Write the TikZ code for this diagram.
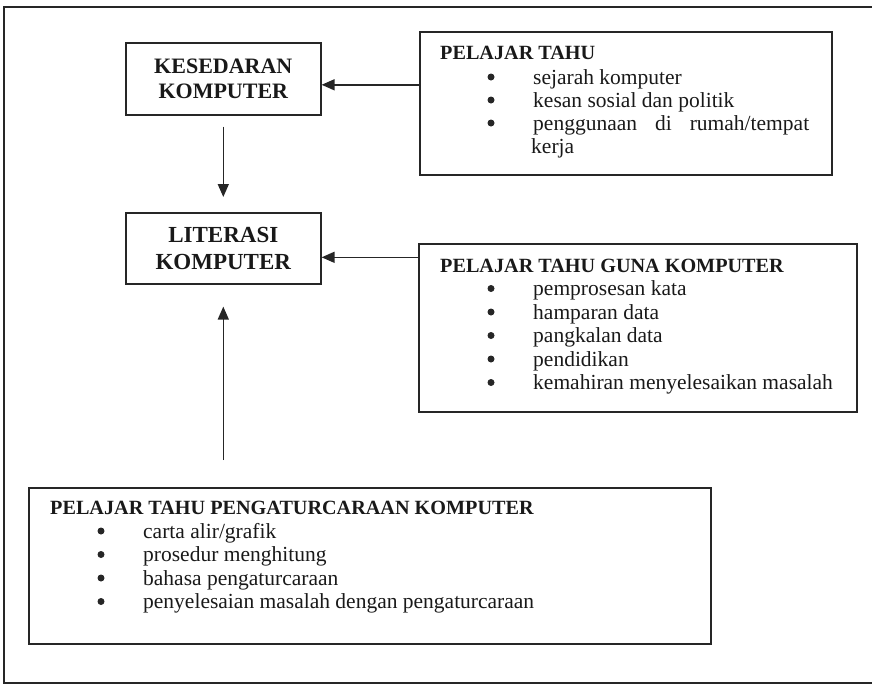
\documentclass[tikz,border=0pt]{standalone}
\usepackage{fontspec}
\setmainfont{Liberation Serif}
\usetikzlibrary{arrows.meta}
\begin{document}
\begin{tikzpicture}[x=1pt, y=-1pt, draw=black!85, text=black!90,
	box/.style={draw, line width=1.6pt, rectangle, anchor=north west, inner sep=0pt},
	big/.style={font=\fontsize{22}{25}\selectfont\bfseries, align=center},
	hd/.style={anchor=base west, inner sep=0pt, font=\fontsize{20.2}{24}\selectfont\bfseries},
	item/.style={anchor=base west, inner sep=0pt, font=\fontsize{21.5}{24}\selectfont},
	dot/.style={circle, fill=black!85, inner sep=0pt, minimum size=7pt},
	arr/.style={-{Triangle[length=13pt, width=11pt]}, line width=1.5pt}]
	\useasboundingbox (0,0) rectangle (872,686);
	\draw[line width=2pt] (872,7) -- (4,7) -- (4,683) -- (872,683);

	% left column
	\node[box, big, minimum width=195pt, minimum height=72pt] (kes) at (125,42) {KESEDARAN\\KOMPUTER};
	\node[box, big, font=\fontsize{23}{27}\selectfont\bfseries, minimum width=195pt, minimum height=71pt] (lit) at (125,212) {LITERASI\\KOMPUTER};

	% right and bottom boxes
	\node[box, minimum width=412pt, minimum height=143pt] (tahu) at (419,31) {};
	\node[box, minimum width=438pt, minimum height=168pt] (guna) at (418,243) {};
	\node[box, minimum width=682pt, minimum height=156pt] (prog) at (28,487) {};

	\node[hd] (tahuhd) at (440,59) {PELAJAR TAHU};
	\node[dot] (tahudot-1) at (491,77) {};
	\node[item] (tahu-1) at (533,84) {sejarah komputer};
	\node[dot] (tahudot-2) at (491,100) {};
	\node[item] (tahu-2) at (533,107) {kesan sosial dan politik};
	\node[dot] (tahudot-3) at (491,123) {};
	\node[item] (tahu-3) at (533,130) {\makebox[276pt][s]{penggunaan di rumah/tempat}};
	\node[item] (tahu-4) at (531,153) {kerja};

	\node[hd] (gunahd) at (440,272) {PELAJAR TAHU GUNA KOMPUTER};
	\foreach \txt [count=\i] in {pemprosesan kata, hamparan data, pangkalan data, pendidikan, kemahiran menyelesaikan masalah} {
		\node[dot] (gunadot-\i) at (491,265+23.5*\i) {};
		\node[item] (guna-\i) at (533,272+23.5*\i) {\txt};
	}

	\node[hd] (proghd) at (50,514) {PELAJAR TAHU PENGATURCARAAN KOMPUTER};
	\foreach \txt [count=\i] in {carta alir/grafik, prosedur menghitung, bahasa pengaturcaraan, penyelesaian masalah dengan pengaturcaraan} {
		\node[dot] (progdot-\i) at (101,507.5+23.5*\i) {};
		\node[item] (prog-\i) at (143,514.5+23.5*\i) {\txt};
	}

	% arrows
	\draw[arr] ([yshift=-6pt]kes.east -| tahu.west) -- ([yshift=-6pt]kes.east);
	\draw[arr] ([yshift=-9pt]lit.east -| guna.west) -- ([yshift=-9pt]lit.east);
	\draw[arr, shorten <=11pt, shorten >=15pt] (kes.south) -- (lit.north);
	\draw[arr, shorten <=27pt, shorten >=22pt] (lit.south |- prog.north) -- (lit.south);
\end{tikzpicture}
\end{document}
